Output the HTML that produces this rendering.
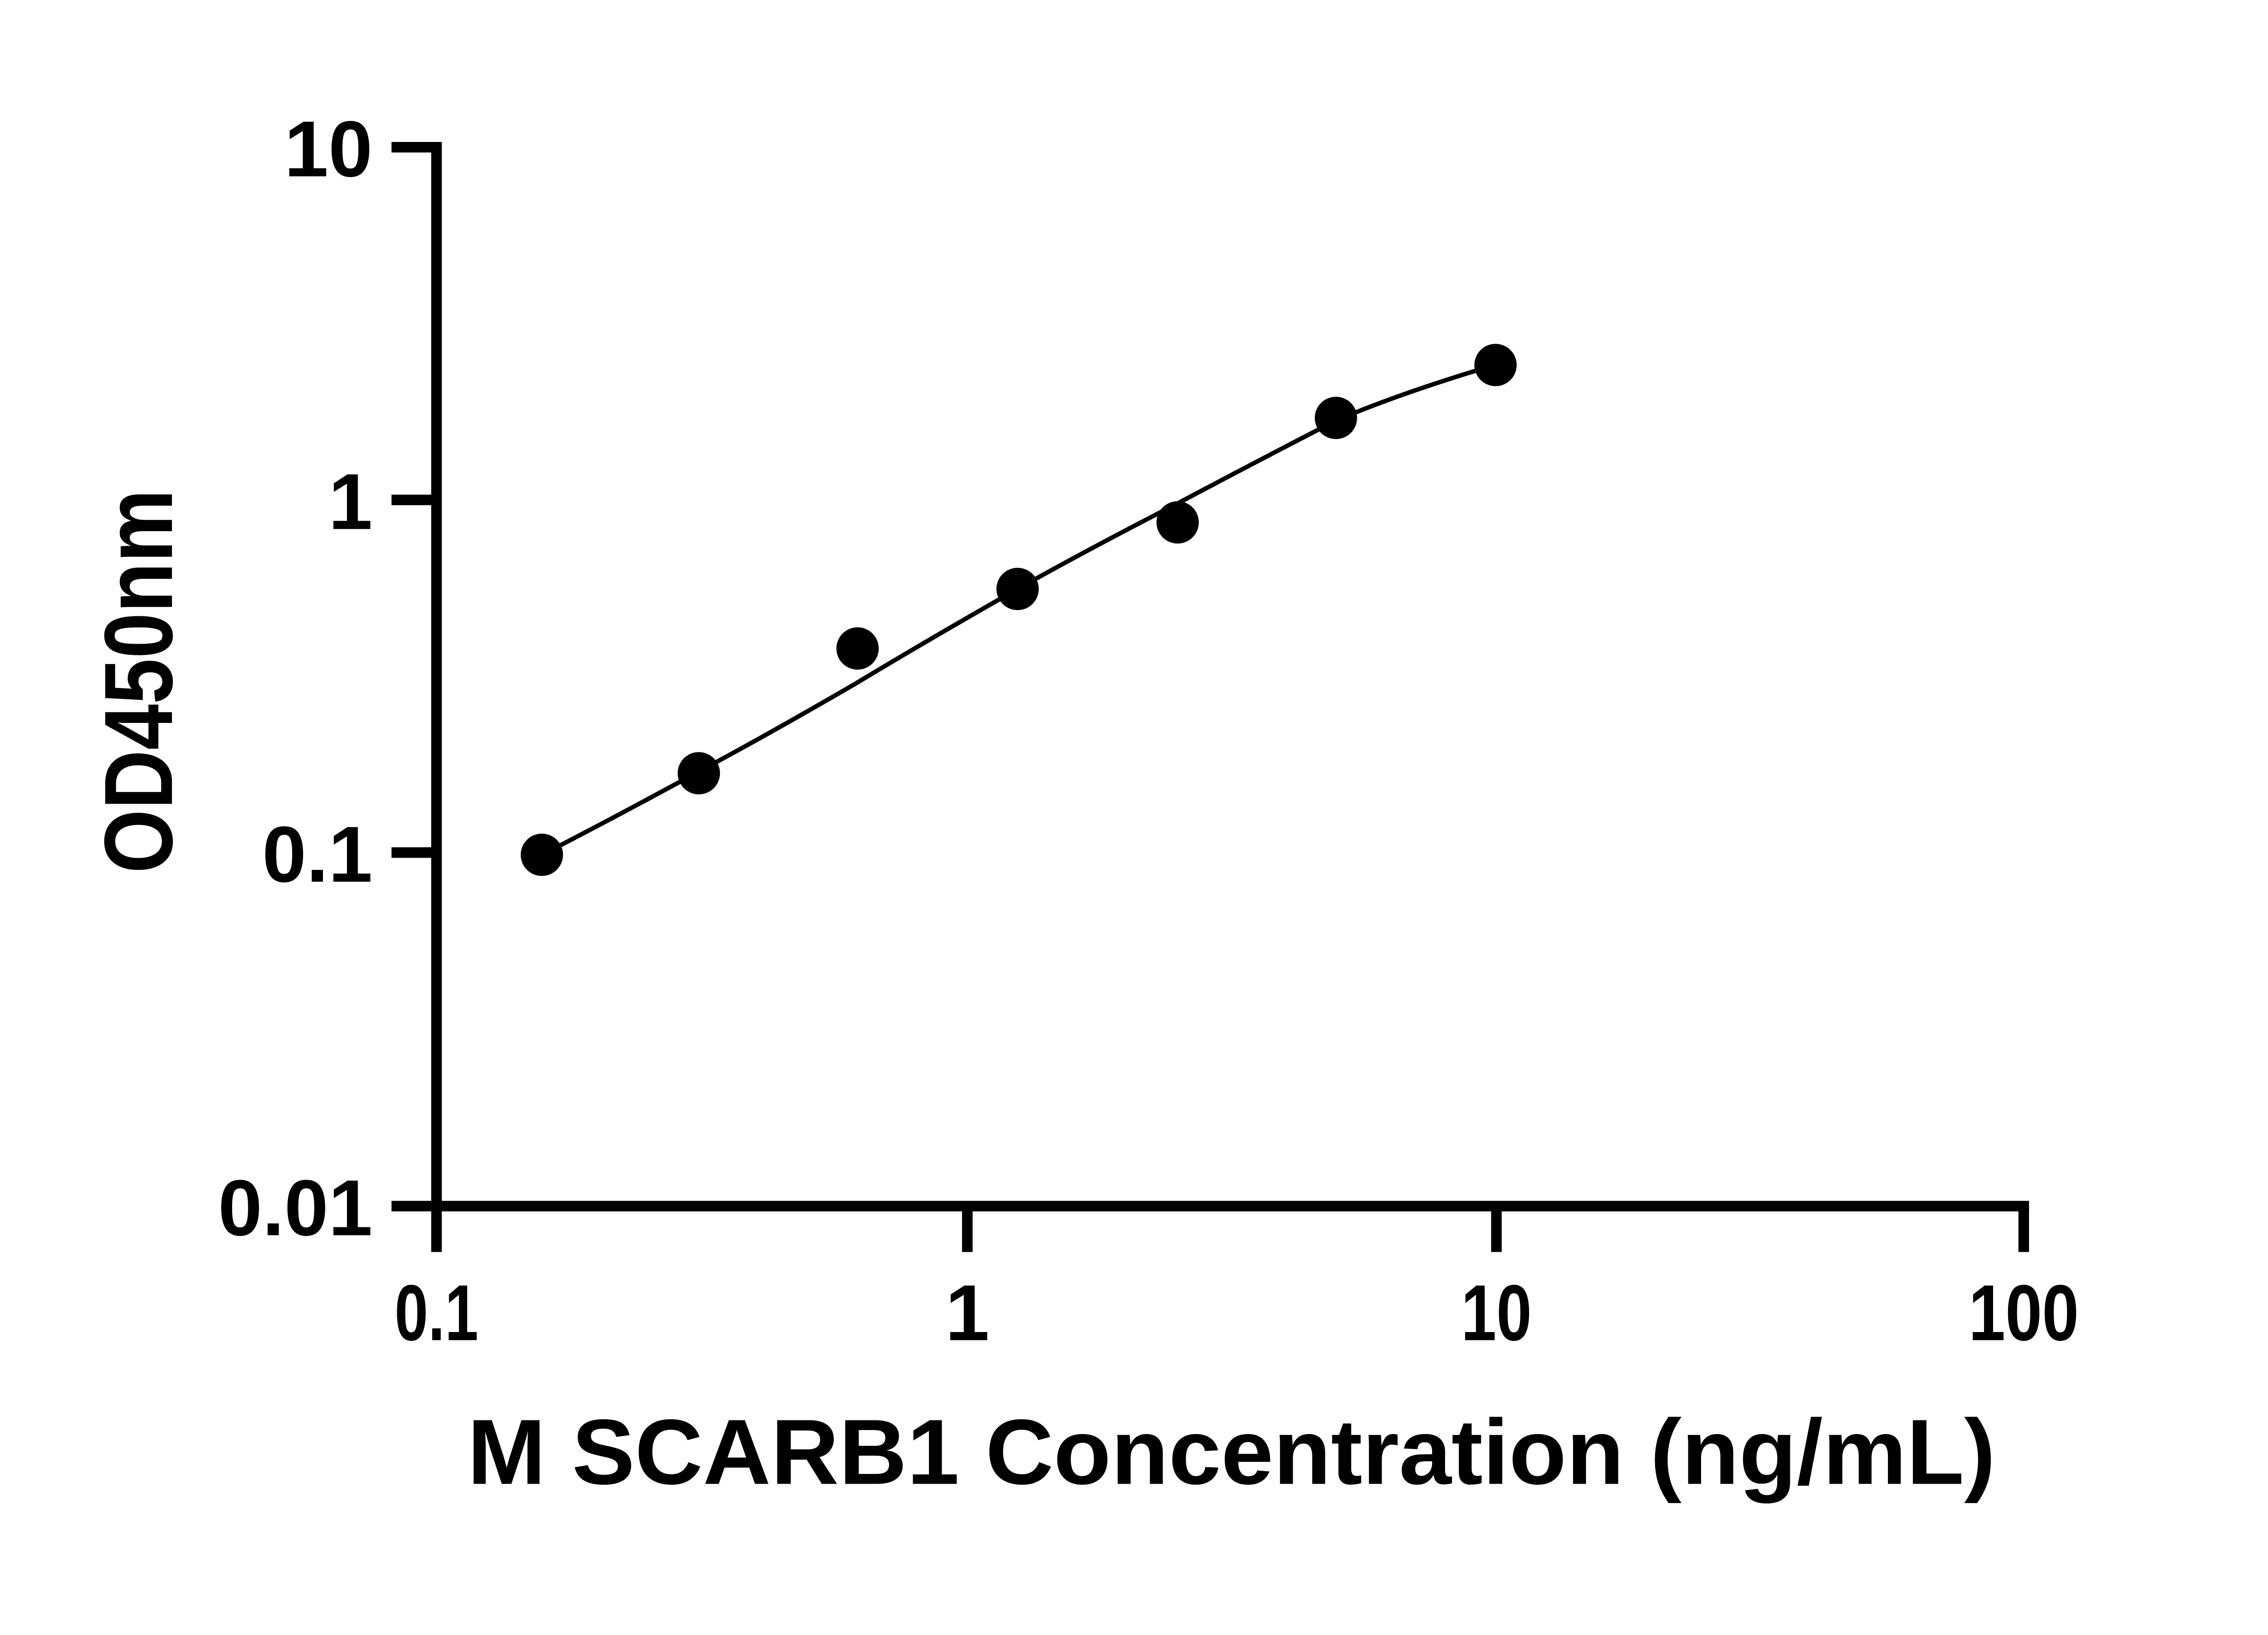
<!DOCTYPE html>
<html><head><meta charset="utf-8"><style>html,body{margin:0;padding:0;background:#fff}</style></head>
<body>
<svg width="5142" height="3600" xmlns="http://www.w3.org/2000/svg">
<rect width="5142" height="3600" fill="#fff"/>
<g transform="scale(0.972)">
<g stroke="#000" stroke-width="24" fill="none">
<line x1="990" y1="322" x2="990" y2="2840"/>
<line x1="888" y1="2736" x2="4602" y2="2736"/>
<line x1="888" y1="334" x2="990" y2="334"/>
<line x1="888" y1="1134" x2="990" y2="1134"/>
<line x1="888" y1="1934" x2="990" y2="1934"/>
<line x1="2194" y1="2736" x2="2194" y2="2840"/>
<line x1="3394" y1="2736" x2="3394" y2="2840"/>
<line x1="4590" y1="2736" x2="4590" y2="2840"/>
</g>
<g font-family="Liberation Sans, sans-serif" font-weight="bold" font-size="180" fill="#000">
<text x="845" y="400" text-anchor="end">10</text>
<text x="845" y="1200" text-anchor="end">1</text>
<text x="845" y="2000" text-anchor="end">0.1</text>
<text x="845" y="2802" text-anchor="end">0.01</text>
<text x="990" y="3040" text-anchor="middle" textLength="190" lengthAdjust="spacingAndGlyphs">0.1</text>
<text x="2194" y="3040" text-anchor="middle">1</text>
<text x="3394" y="3040" text-anchor="middle" textLength="160" lengthAdjust="spacingAndGlyphs">10</text>
<text x="4590" y="3040" text-anchor="middle" textLength="250" lengthAdjust="spacingAndGlyphs">100</text>
<text x="1060" y="3366" font-size="210" textLength="3466" lengthAdjust="spacingAndGlyphs">M SCARB1 Concentration (ng/mL)</text>
<text transform="translate(390,1981) rotate(-90)" font-size="220" textLength="871" lengthAdjust="spacingAndGlyphs">OD450nm</text>
</g>
<path d="M1229,1939 C1403,1850 1585,1750 1585,1750 C1754,1660 1945,1548 1945,1548 C2124,1440 2308,1336 2308,1336 C2486,1236 2671,1142 2671,1142 C2853,1045 3030,954 3030,954 C3204,880 3392,828 3392,828" stroke="#000" stroke-width="10" fill="none"/>
<g fill="#000">
<circle cx="1229" cy="1939" r="48"/>
<circle cx="1585" cy="1754" r="48"/>
<circle cx="1945" cy="1471" r="48"/>
<circle cx="2308" cy="1336" r="48"/>
<circle cx="2671" cy="1185" r="48"/>
<circle cx="3030" cy="948" r="48"/>
<circle cx="3392" cy="828" r="48"/>
</g>
</g>
</svg>
</body></html>
